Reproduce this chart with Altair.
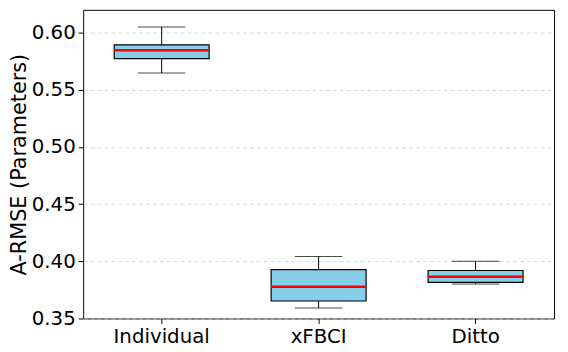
import altair as alt
import pandas as pd

methods = ["Individual", "xFBCI", "Ditto"]
lower_whisker = [0.5647, 0.3592, 0.3802]
q1 = [0.5773, 0.3653, 0.3816]
median = [0.5847, 0.3778, 0.3865]
q3 = [0.5894, 0.3928, 0.3920]
upper_whisker = [0.6049, 0.4043, 0.4000]

df = pd.DataFrame({
    "method": methods,
    "lo": lower_whisker,
    "q1": q1,
    "med": median,
    "q3": q3,
    "hi": upper_whisker,
})

x = alt.X("method:N", sort=methods, title=None,
          scale=alt.Scale(paddingInner=0, paddingOuter=0),
          axis=alt.Axis(labelAngle=0, labelFontSize=20, labelColor="black",
                        tickColor="black", tickSize=5, labelPadding=3,
                        domain=False, grid=False, labelFont="DejaVu Sans"))
yscale = alt.Scale(domain=[0.35, 0.62], nice=False, zero=False)
y = alt.Y("q1:Q", scale=yscale, title="A-RMSE (Parameters)",
          axis=alt.Axis(values=[0.35, 0.40, 0.45, 0.50, 0.55, 0.60], format=".2f",
                        labelFontSize=20, labelColor="black", tickColor="black",
                        tickSize=5, labelPadding=3, domain=False,
                        titleFontSize=21, titleFontWeight="normal", titleColor="black",
                        titlePadding=2, labelFont="DejaVu Sans", titleFont="DejaVu Sans",
                        grid=True, gridDash=[4, 3], gridColor="#cfcfcf", gridWidth=0.8))

base = alt.Chart(df)

whisk_lo = base.mark_rule(color="black", strokeWidth=1).encode(
    x=x, y=alt.Y("lo:Q", scale=yscale), y2="q1:Q")
whisk_hi = base.mark_rule(color="black", strokeWidth=1).encode(
    x=x, y=alt.Y("q3:Q", scale=yscale), y2="hi:Q")
cap_lo = base.mark_tick(color="black", size=48, thickness=1, orient="horizontal").encode(
    x=x, y=alt.Y("lo:Q", scale=yscale))
cap_hi = base.mark_tick(color="black", size=48, thickness=1, orient="horizontal").encode(
    x=x, y=alt.Y("hi:Q", scale=yscale))
box = base.mark_bar(size=96, color="#87CEEB", stroke="black", strokeWidth=1.2).encode(
    x=x, y=y, y2="q3:Q")
med = base.mark_tick(color="red", size=96, thickness=2.5, orient="horizontal",
                     opacity=1).encode(
    x=x, y=alt.Y("med:Q", scale=yscale))

chart = alt.layer(whisk_lo, whisk_hi, cap_lo, cap_hi, box, med).properties(
    width=476, height=312,
    autosize=alt.AutoSizeParams(type="none"),
    padding={"left": 76, "top": 0, "right": 6, "bottom": 30},
).configure_view(stroke="black", strokeWidth=1)

chart.save("out.html", embed_options={"renderer": "svg", "actions": False})
